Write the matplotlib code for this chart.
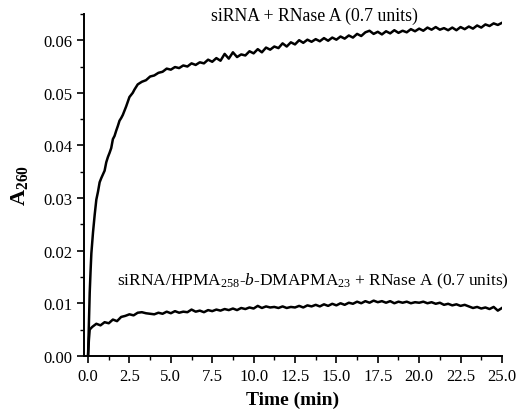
import numpy as np
import matplotlib
matplotlib.use("Agg")
import matplotlib.pyplot as plt
from matplotlib.ticker import MultipleLocator, FormatStrFormatter

plt.rcParams['font.family'] = ['Liberation Serif', 'DejaVu Serif']
plt.rcParams['mathtext.fontset'] = 'custom'
plt.rcParams['mathtext.rm'] = 'Liberation Serif'
plt.rcParams['mathtext.it'] = 'Liberation Serif:italic'
plt.rcParams['mathtext.bf'] = 'Liberation Serif:bold'

# free siRNA + RNase A: fast rise, then slow drift
rise_time = [0.0, 0.05, 0.1, 0.15, 0.2, 0.3, 0.4, 0.5, 0.6, 0.7, 0.8, 0.9, 1.0,
             1.1, 1.2, 1.3, 1.4, 1.5, 1.6, 1.7, 1.8, 1.9, 2.0, 2.1, 2.2, 2.3,
             2.4, 2.5, 2.6, 2.7, 2.8, 2.9]
rise_abs = [0.0, 0.006, 0.012, 0.016, 0.0195, 0.0235, 0.0268, 0.0297, 0.0312,
            0.0330, 0.0338, 0.0345, 0.0352, 0.0368, 0.0378, 0.0386, 0.0395,
            0.0412, 0.0418, 0.0428, 0.0437, 0.0447, 0.0452, 0.0458, 0.0466,
            0.0474, 0.0483, 0.0492, 0.0496, 0.0500, 0.0506, 0.0511]
free_time = list(rise_time) + list(np.arange(3.0, 25.01, 0.25))
free_abs = rise_abs + [
    0.0516, 0.0521, 0.0524, 0.0531, 0.0533, 0.0538, 0.0540, 0.0546, 0.0544,
    0.0549, 0.0547, 0.0552, 0.0550, 0.0556, 0.0553, 0.0558, 0.0556, 0.0563,
    0.0559, 0.0566, 0.0561, 0.0574, 0.0565, 0.0577, 0.0568, 0.0573, 0.0571,
    0.0579, 0.0575, 0.0583, 0.0577, 0.0586, 0.0582, 0.0588, 0.0585, 0.0594,
    0.0588, 0.0596, 0.0592, 0.0600, 0.0595, 0.0601, 0.0597, 0.0602, 0.0598,
    0.0604, 0.0599, 0.0605, 0.0601, 0.0607, 0.0603, 0.0609, 0.0605, 0.0612,
    0.0608, 0.0615, 0.0618, 0.0612, 0.0616, 0.0611, 0.0617, 0.0613, 0.0619,
    0.0614, 0.0618, 0.0615, 0.0621, 0.0617, 0.0622, 0.0618, 0.0624, 0.0620,
    0.0625, 0.0620, 0.0623, 0.0619, 0.0624, 0.0619, 0.0625, 0.0621, 0.0626,
    0.0622, 0.0628, 0.0624, 0.0630, 0.0627, 0.0632, 0.0629, 0.0633]

# complexed siRNA + RNase A
poly_time = [0.0, 0.05, 0.1] + list(np.arange(0.25, 25.01, 0.25))
poly_abs = [
    0.0, 0.0030, 0.0050,
    0.0055, 0.0061, 0.0058, 0.0064, 0.0062, 0.0069, 0.0066, 0.0074, 0.0076,
    0.0079, 0.0077, 0.0082, 0.0083, 0.0081, 0.0080, 0.0079, 0.0082, 0.0080,
    0.0084, 0.0081, 0.0085, 0.0082, 0.0084, 0.0083, 0.0088, 0.0084, 0.0086,
    0.0083, 0.0087, 0.0085, 0.0088, 0.0086, 0.0089, 0.0087, 0.0090, 0.0087,
    0.0091, 0.0089, 0.0092, 0.0090, 0.0095, 0.0091, 0.0094, 0.0092, 0.0093,
    0.0091, 0.0094, 0.0091, 0.0093, 0.0092, 0.0095, 0.0092, 0.0096, 0.0094,
    0.0097, 0.0094, 0.0098, 0.0095, 0.0099, 0.0096, 0.0100, 0.0097, 0.0101,
    0.0099, 0.0103, 0.0100, 0.0104, 0.0101, 0.0105, 0.0102, 0.0104, 0.0101,
    0.0104, 0.0100, 0.0103, 0.0101, 0.0103, 0.0100, 0.0102, 0.0101, 0.0103,
    0.0100, 0.0102, 0.0099, 0.0101, 0.0097, 0.0099, 0.0096, 0.0098, 0.0095,
    0.0097, 0.0094, 0.0091, 0.0093, 0.0090, 0.0092, 0.0089, 0.0093, 0.0086,
    0.0091]

fig = plt.figure(figsize=(5.18, 4.14), dpi=100)
ax = fig.add_axes([0.162, 0.138, 0.807, 0.826])

ax.plot(free_time, free_abs, color='black', lw=1.8)
ax.plot(poly_time, poly_abs, color='black', lw=1.8)

ax.set_xlim(-0.25, 25)
ax.set_ylim(0, 0.065)
ax.xaxis.set_major_locator(MultipleLocator(2.5))
ax.xaxis.set_minor_locator(MultipleLocator(1.25))
ax.yaxis.set_major_locator(MultipleLocator(0.01))
ax.yaxis.set_minor_locator(MultipleLocator(0.005))
ax.xaxis.set_major_formatter(FormatStrFormatter('%.1f'))
ax.yaxis.set_major_formatter(FormatStrFormatter('%.2f'))

for side in ['top', 'right']:
    ax.spines[side].set_visible(False)
for side in ['left', 'bottom']:
    ax.spines[side].set_linewidth(1.4)
ax.tick_params(which='major', direction='out', length=5, width=1.2, labelsize=12)
ax.tick_params(which='minor', direction='out', length=3, width=1.0)

ax.set_xlabel('Time (min)', fontsize=14, fontweight='bold', labelpad=5)
ax.set_ylabel(r'$\mathbf{A_{260}}$', fontsize=16, labelpad=9)

ax.text(13.7, 0.0648, 'siRNA + RNase A (0.7 units)', fontsize=12.8,
        ha='center', va='center')
ax.text(13.6, 0.0143,
        r'siRNA/HPMA$_{258}$-$\mathit{b}$-DMAPMA$_{23}$ + RNase A (0.7 units)',
        fontsize=12.5, ha='center', va='center')

fig.savefig('out.png', dpi=100)
